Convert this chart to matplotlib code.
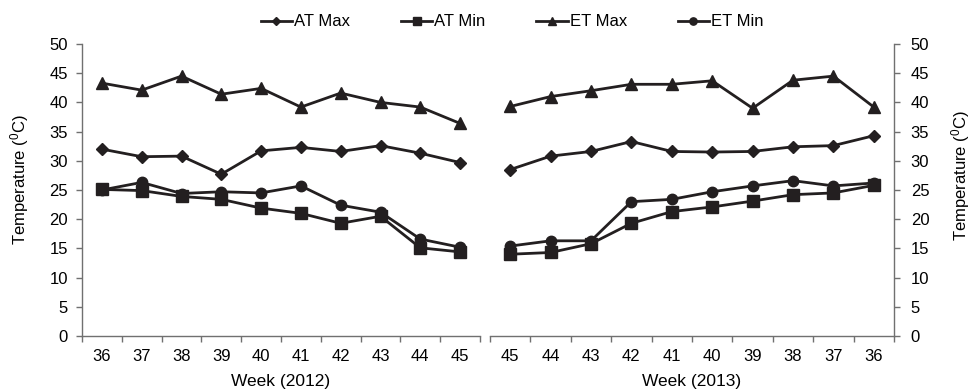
import matplotlib
matplotlib.use("Agg")
import matplotlib.pyplot as plt
import numpy as np

plt.rcParams['font.family'] = ['Liberation Sans', 'DejaVu Sans']
plt.rcParams['mathtext.fontset'] = 'custom'
plt.rcParams['mathtext.rm'] = 'Liberation Sans'
plt.rcParams['mathtext.it'] = 'Liberation Sans'

weeks_2012 = ["36", "37", "38", "39", "40", "41", "42", "43", "44", "45"]
weeks_2013 = ["45", "44", "43", "42", "41", "40", "39", "38", "37", "36"]

at_max_2012 = [32.0, 30.7, 30.8, 27.7, 31.7, 32.3, 31.6, 32.6, 31.3, 29.7]
at_min_2012 = [25.1, 24.9, 23.9, 23.4, 21.9, 21.0, 19.3, 20.5, 15.1, 14.4]
et_max_2012 = [43.3, 42.1, 44.5, 41.4, 42.4, 39.2, 41.6, 40.0, 39.2, 36.4]
et_min_2012 = [25.0, 26.3, 24.4, 24.7, 24.5, 25.7, 22.4, 21.2, 16.6, 15.2]

at_max_2013 = [28.5, 30.8, 31.6, 33.3, 31.6, 31.5, 31.6, 32.4, 32.6, 34.3]
at_min_2013 = [14.0, 14.3, 15.8, 19.3, 21.3, 22.1, 23.1, 24.2, 24.5, 25.8]
et_max_2013 = [39.3, 41.0, 42.0, 43.1, 43.1, 43.7, 39.0, 43.8, 44.5, 39.2]
et_min_2013 = [15.4, 16.3, 16.3, 23.0, 23.4, 24.7, 25.7, 26.6, 25.7, 26.2]

series_names = ["AT Max", "AT Min", "ET Max", "ET Min"]
markers = ["D", "s", "^", "o"]
msizes = [6, 8, 8, 7.5]
line_color = "#231f20"
spine_color = "#707070"

W, H = 973, 390
fig = plt.figure(figsize=(W / 100, H / 100), dpi=100)
ax1 = fig.add_axes([82 / W, 54 / H, 398 / W, 292 / H])
ax2 = fig.add_axes([490 / W, 54 / H, 404 / W, 292 / H])


def draw(ax, labels, data):
    x = np.arange(len(labels))
    handles = []
    for vals, name, m, ms in zip(data, series_names, markers, msizes):
        h, = ax.plot(x, vals, color=line_color, lw=2.0, marker=m,
                     markersize=ms, label=name,
                     markerfacecolor=line_color, markeredgecolor=line_color)
        handles.append(h)
    ax.set_xlim(-0.5, len(labels) - 0.5)
    ax.set_ylim(0, 50)
    ax.set_yticks(np.arange(0, 51, 5))
    ax.set_xticks(x)
    ax.set_xticklabels(labels)
    ax.set_xticks(np.arange(-0.5, len(labels), 1.0), minor=True)
    ax.tick_params(axis='x', which='major', length=0, pad=9.5, labelsize=12)
    ax.tick_params(axis='x', which='minor', length=4, width=1,
                   color=spine_color, direction='out')
    ax.tick_params(axis='y', length=4, width=1, color=spine_color,
                   labelsize=12, direction='out', pad=6)
    for s in ax.spines.values():
        s.set_color(spine_color)
        s.set_linewidth(1)
    return handles


handles = draw(ax1, weeks_2012, [at_max_2012, at_min_2012, et_max_2012, et_min_2012])
draw(ax2, weeks_2013, [at_max_2013, at_min_2013, et_max_2013, et_min_2013])

ax1.spines['top'].set_visible(False)
ax1.spines['right'].set_visible(False)
ax2.spines['top'].set_visible(False)
ax2.spines['left'].set_visible(False)
ax2.yaxis.tick_right()
ax2.yaxis.set_label_position('right')
ax2.tick_params(axis='y', pad=8)

ylabel = r'Temperature ($^{0}$C)'
ax1.set_ylabel(ylabel, fontsize=12)
ax2.set_ylabel(ylabel, fontsize=12)
for ax, xpix, ypix in [(ax1, 20, 180), (ax2, 961, 176)]:
    lab = ax.yaxis.label
    lab.set_va('center')
    lab.set_ha('center')
    x0 = ax.get_position().x0 * W
    w = ax.get_position().width * W
    ax.yaxis.set_label_coords((xpix - x0) / w, (336 - ypix) / 292)

ax1.set_xlabel("Week (2012)", fontsize=12.5)
ax2.set_xlabel("Week (2013)", fontsize=12.5)
for ax in (ax1, ax2):
    ax.xaxis.label.set_va('baseline')
    ax.xaxis.set_label_coords(0.5, (336 - 386) / 292)

fig.legend(handles, series_names, loc='center', bbox_to_anchor=(512 / W, 1 - 22 / H),
           ncol=4, frameon=False, fontsize=12, handlelength=1.9,
           handletextpad=0.1, columnspacing=3.05, markerscale=0.7)

fig.savefig("out.png", dpi=100, facecolor="white")
